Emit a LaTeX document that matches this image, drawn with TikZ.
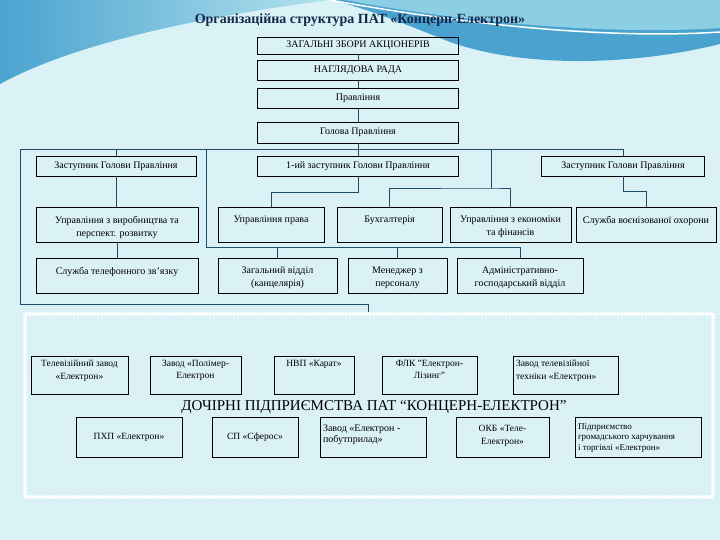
\documentclass[tikz,border=0pt]{standalone}
\usepackage{fontspec}
\setmainfont{Liberation Serif}
\usetikzlibrary{positioning}
\definecolor{bgcyan}{HTML}{DAF1F6}
\definecolor{wavedark}{HTML}{4AA3CF}
\definecolor{wavemid}{HTML}{8CCFE4}
\definecolor{wavelight}{HTML}{B4E2EE}
\definecolor{linknavy}{HTML}{1D4B68}
\definecolor{titlenavy}{HTML}{14284A}
% text held at the top of a box, centred or ragged
\newcommand{\toptx}[3]{\parbox[c][#1][t]{#2}{\centering #3}}
\newcommand{\toptxl}[3]{\parbox[c][#1][t]{#2}{\raggedright #3}}

\begin{document}
\begin{tikzpicture}[x=1pt,y=-1pt,
  box/.style={draw=black,line width=0.7pt,inner sep=0pt,font=\fontsize{10}{13}\selectfont,align=center},
  subbox/.style={box,font=\fontsize{9.5}{12.5}\selectfont},
  link/.style={draw=linknavy,line width=0.8pt},
  subframe/.style={draw=white,line width=3.2pt,dash pattern=on 0.1pt off 3.3pt,line cap=round,inner sep=0pt},
]
  % background and waves
  \fill[bgcyan] (0,0) rectangle (720,540);
  \useasboundingbox (0,0) rectangle (720,540);
  \shade[left color=wavedark,right color=wavelight] (0,0) -- (330,0) .. controls (220,14) and (80,40) .. (0,84) -- cycle;
  \fill[wavedark] (330,0) -- (720,0) -- (720,44) .. controls (640,64) and (530,70) .. (450,42) .. controls (400,22) and (360,6) .. (330,0) -- cycle;
  \fill[wavemid] (345,0) -- (720,0) -- (720,28) .. controls (600,36) and (450,20) .. (345,0) -- cycle;
  \draw[white,line width=1.5pt] (330,0) .. controls (450,22) and (600,40) .. (720,32);

  \node[font=\bfseries\fontsize{14}{16}\selectfont,text=titlenavy] (title) at (360,20) {Організаційна структура ПАТ «Концерн-Електрон»};

  % governing bodies
  \node[box,minimum width=201,minimum height=17] (zbory) at (358,45.5) {ЗАГАЛЬНІ ЗБОРИ АКЦІОНЕРІВ};
  \node[box,minimum width=201,minimum height=20] (rada) at (358,70) {НАГЛЯДОВА РАДА};
  \node[box,minimum width=201,minimum height=20] (pravl) at (358,98) {Правління};
  \node[box,minimum width=201,minimum height=21] (holova) at (358,132.5) {Голова Правління};

  % deputies
  \node[box,minimum width=160,minimum height=20] (zastL) at (116,166) {Заступник Голови Правління};
  \node[box,minimum width=201,minimum height=20] (zast1) at (358,166) {1-ий заступник Голови Правління};
  \node[box,minimum width=163,minimum height=20] (zastR) at (623,166) {Заступник Голови Правління};

  % departments
  \node[box,minimum width=162,minimum height=35] (vyrob) at (117,224.5) {\toptx{17pt}{156pt}{Управління з виробництва та\\перспект. розвитку}};
  \node[box,minimum width=106,minimum height=35] (prava) at (271,224.5) {\toptx{17pt}{100pt}{Управління права}};
  \node[box,minimum width=105,minimum height=35] (buh) at (389.5,224.5) {\toptx{17pt}{100pt}{Бухгалтерія}};
  \node[box,minimum width=121,minimum height=35] (ekon) at (510.5,224.5) {\toptx{17pt}{117pt}{Управління з економіки\\та фінансів}};
  \node[box,minimum width=140,minimum height=35] (ohorona) at (646,224.5) {\toptx{17pt}{136pt}{Служба воєнізованої охорони}};

  \node[box,minimum width=162,minimum height=35] (telef) at (117,275.5) {\toptx{17pt}{156pt}{Служба телефонного зв'язку}};
  \node[box,minimum width=119,minimum height=35] (zahal) at (277.5,275.5) {\toptx{17pt}{113pt}{Загальний відділ\\(канцелярія)}};
  \node[box,minimum width=99,minimum height=35] (menedzh) at (397.5,275.5) {\toptx{17pt}{95pt}{Менеджер з\\персоналу}};
  \node[box,minimum width=126,minimum height=35] (admin) at (520,275.5) {\toptx{17pt}{122pt}{Адміністративно-\\господарський відділ}};

  % subsidiaries
  \node[subframe,minimum width=688,minimum height=183] (subs) at (369,405.5) {};

  \node[subbox,minimum width=97,minimum height=38] (tvzavod) at (79.5,375) {\toptx{30pt}{95pt}{Телевізійний завод\\«Електрон»}};
  \node[subbox,minimum width=91,minimum height=38] (polimer) at (195.5,375) {\toptx{30pt}{89pt}{Завод «Полімер-\\Електрон}};
  \node[subbox,minimum width=80,minimum height=38] (karat) at (314,375) {\toptx{30pt}{78pt}{НВП «Карат»}};
  \node[subbox,minimum width=95,minimum height=38] (lizing) at (429.5,375) {\toptx{30pt}{93pt}{ФЛК "Електрон-\\Лізинг"}};
  \node[subbox,minimum width=105,minimum height=38] (tehnika) at (565.5,375) {\toptxl{30pt}{99pt}{Завод телевізійної\\техніки «Електрон»}};

  \node[font=\fontsize{15}{17}\selectfont] (subslabel) at (374,407) {ДОЧІРНІ ПІДПРИЄМСТВА ПАТ “КОНЦЕРН-ЕЛЕКТРОН”};

  \node[subbox,minimum width=106,minimum height=40] (phpp) at (129,437) {ПХП «Електрон»};
  \node[subbox,minimum width=86,minimum height=40] (sferos) at (255,437) {СП «Сферос»};
  \node[subbox,font=\fontsize{10}{11}\selectfont,minimum width=106,minimum height=40] (pobut) at (373,437) {\toptxl{25pt}{100pt}{Завод «Електрон -\\побутприлад»}};
  \node[subbox,minimum width=93,minimum height=40] (okb) at (502.5,437) {\toptx{23pt}{91pt}{ОКБ «Теле-\\Електрон»}};
  \node[subbox,font=\fontsize{9}{10.5}\selectfont,minimum width=126,minimum height=40] (harch) at (638,437) {\toptxl{27pt}{120pt}{Підприємство\\громадського харчування\\і торгівлі «Електрон»}};

  % connectors
  \coordinate (busL) at (20,149);
  \coordinate (busR) at (623,149);
  \coordinate (loopL) at (20,304);
  \coordinate (loopR) at (368,304);
  \coordinate (kancbus) at (206,247);
  \coordinate (finbus) at (491,188);

  \draw[link] (zbory) -- (rada);
  \draw[link] (rada) -- (pravl);
  \draw[link] (pravl) -- (holova);
  \draw[link] (holova) -- (zast1);
  \draw[link] (busL) -- (busR);
  \draw[link] (zastL.north) -- (zastL.north |- busL);
  \draw[link] (zastR.north) -- (zastR.north |- busR);
  \draw[link] (busL) -- (loopL) -- (loopR) -- (loopR |- subs.north);

  \draw[link] (zastL.south) -- (zastL.south |- vyrob.north);
  \draw[link] (vyrob.south) -- (vyrob.south |- telef.north);
  \draw[link] (zast1.south) -- ++(0,16) -| (prava.north);
  \draw[link] (zastR.south) -- ++(0,15) -| (ohorona.north);

  \draw[link] (finbus |- busL) -- (finbus);
  \draw[link] (buh.north) |- (finbus) -| (ekon.north);

  \draw[link] (kancbus |- busL) -- (kancbus) -| (admin.north);
  \draw[link] (zahal.north) -- (zahal.north |- kancbus);
  \draw[link] (menedzh.north) -- (menedzh.north |- kancbus);
\end{tikzpicture}
\end{document}
